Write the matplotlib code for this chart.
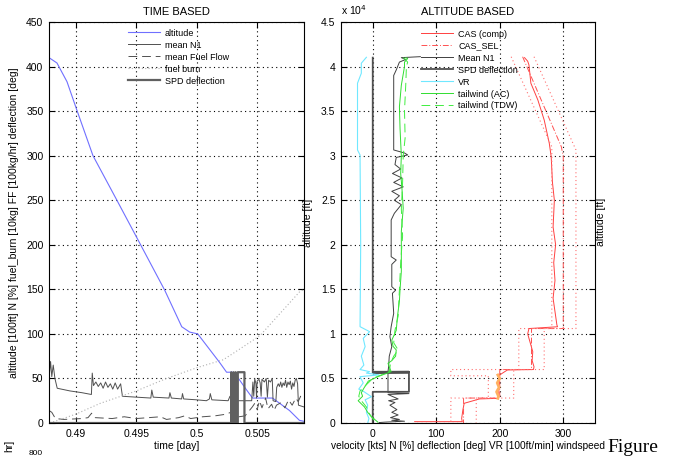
import numpy as np
import matplotlib
matplotlib.use('Agg')
import matplotlib.pyplot as plt

plt.rcParams['font.family'] = ['Liberation Sans', 'DejaVu Sans']
plt.rcParams['font.size'] = 7.5

# ---- TIME BASED data (time [day], values) ----
t_alt = [0.48777, 0.48843, 0.48926, 0.49008, 0.49141, 0.49339, 0.49504, 0.49735,
         0.49876, 0.49942, 0.50008, 0.50189, 0.50247, 0.50297, 0.50330, 0.50413,
         0.50462, 0.50627, 0.50768, 0.50850, 0.50884]
alt_100ft = [410, 404, 383, 351, 300, 250, 208, 149, 108, 102, 100, 68, 57, 57, 53,
             37, 28, 28, 14, 3, 2]

t_n1 = [0.48777, 0.48790, 0.48800, 0.48812, 0.48826, 0.48845, 0.48950, 0.49050, 0.49128,
        0.49135, 0.49145, 0.49165, 0.49185, 0.49205, 0.49225, 0.49245, 0.49265, 0.49285,
        0.49305, 0.49325, 0.49345, 0.49370, 0.49385, 0.49500, 0.49620, 0.49628, 0.49640,
        0.49770, 0.49778, 0.49790, 0.49875, 0.49882, 0.49892, 0.50000, 0.50080, 0.50105,
        0.50112, 0.50125, 0.50260, 0.50275, 0.50290, 0.50330, 0.50390, 0.50455, 0.50465,
        0.50472, 0.50480, 0.50490, 0.50495, 0.50500, 0.50515, 0.50525, 0.50533, 0.50540,
        0.50560, 0.50575, 0.50585, 0.50595, 0.50610, 0.50625, 0.50632, 0.50655, 0.50662,
        0.50675, 0.50685, 0.50695, 0.50705, 0.50715, 0.50725, 0.50735, 0.50745, 0.50755,
        0.50765, 0.50775, 0.50785, 0.50795, 0.50805, 0.50815, 0.50825, 0.50835, 0.50842,
        0.50888]
n1 = [50, 69, 52, 65, 50, 39, 36, 34, 32, 56, 42, 46, 41, 45, 39, 46, 40, 44, 38, 45, 38,
      44, 30, 29, 28, 37, 29, 28, 34, 28, 27, 33, 27, 26, 25, 27, 33, 26, 25, 30, 26, 25,
      25, 25, 46, 30, 50, 44, 28, 47, 49, 45, 30, 49, 46, 50, 29, 48, 46, 50, 25, 24, 40,
      44, 41, 46, 40, 45, 42, 48, 40, 46, 43, 47, 38, 45, 41, 48, 50, 44, 20, 18]

t_ff = [0.48777, 0.48800, 0.48830, 0.48900, 0.49050, 0.49100, 0.49130, 0.49160, 0.49300,
        0.49400, 0.49500, 0.49600, 0.49700, 0.49750, 0.49850, 0.49900, 0.49950, 0.50050,
        0.50150, 0.50250, 0.50280, 0.50300, 0.50400, 0.50460, 0.50480, 0.50500, 0.50520,
        0.50540, 0.50570, 0.50590, 0.50620, 0.50640, 0.50660, 0.50700, 0.50730, 0.50760,
        0.50790, 0.50820, 0.50840, 0.50860, 0.50888]
ff = [14, 12, 5, 4, 5, 6, 11, 6, 5, 7, 5, 6, 7, 4, 6, 8, 5, 7, 8, 10, 12, 6, 8, 18, 22,
      15, 25, 17, 28, 16, 21, 14, 20, 23, 17, 26, 20, 28, 24, 30, 27]

t_burn = [0.48785, 0.49000, 0.49200, 0.49500, 0.49750, 0.50000, 0.50220, 0.50300,
          0.50490, 0.50530, 0.50850, 0.50888]
burn = [0, 10, 22, 36, 50, 62, 71, 78, 95, 99, 147, 150]

t_spd = [0.48777, 0.50286, 0.50286, 0.50290, 0.50305, 0.50305, 0.50309, 0.50322, 0.50322,
         0.50326, 0.50340, 0.50340, 0.50395, 0.50395, 0.50888]
spd_t = [0, 0, 57, 0, 0, 57, 0, 0, 57, 0, 0, 57, 57, 0, 0]

# ---- ALTITUDE BASED data (altitude [ft], values) ----
cas_alt = [41000, 40600, 40180, 38130, 36250, 34000, 31390, 29890, 27000, 25000, 22000,
           20000, 18000, 16000, 14000, 12000, 11000, 10800, 10600, 10000, 9000, 8000,
           7000, 6300, 6000, 5950, 5400, 2770, 2700, 2210, 1500, 500, 150, 150]
cas = [239, 244, 246, 249, 260, 270, 278, 281, 283, 286, 284, 288, 285, 287, 284, 288,
       290, 291, 246, 244, 248, 252, 251, 254, 253, 212, 200, 198, 168, 144, 142, 140,
       141, 66]

cas_hold_alt = [5390, 5000, 4500, 4000, 3500, 3000, 2770]
cas_hold = [197, 200, 196, 199, 195, 198, 197]

sel_alt = [41100, 31000, 29900, 10600, 10600, 6000, 6000, 2800, 2800, 0]
sel = [236, 297, 300, 300, 250, 250, 200, 200, 143, 143]
sel_lo_alt = [41100, 31000, 10600, 10600, 6000, 6000, 5300, 5300, 2800, 2800, 0]
sel_lo = [218, 282, 282, 230, 230, 123, 123, 182, 182, 123, 123]
sel_hi_alt = [41100, 30640, 10600, 10600, 6000, 6000, 2800, 2800, 0]
sel_hi = [254, 320, 320, 270, 270, 222, 222, 163, 163]

n1_alt = [41110, 41000, 40800, 40500, 39620, 39000, 30640, 30300, 30080, 29800, 29000,
          28500, 28000, 27500, 27000, 26500, 26000, 25500, 25000, 24500, 23530, 22780,
          18660, 18290, 17800, 15300, 14900, 14560, 12310, 10810, 9690, 8570, 7500, 6320,
          5760, 3400, 3300, 3200, 2700, 2500, 2300, 2000, 1500, 1200, 900, 600, 400, 300,
          200, 100, 50]
n1_a = [75, 45, 52, 42, 37, 33, 33, 50, 55, 37, 35, 44, 31, 46, 33, 48, 30, 42, 34, 45,
        34, 29, 29, 37, 30, 30, 36, 31, 33, 29, 27, 30, 26, 25, 24, 24, 57, 24, 40, 25,
        35, 27, 38, 30, 40, 28, 42, 30, 50, 20, 10]

spd_alt = [41000, 5750, 5750, 5720, 5700, 5700, 5670, 5650, 5650, 3500, 3500, 0]
spd_a = [0, 0, 57, 0, 0, 57, 0, 0, 57, 57, 0, 0]

vr_alt = [41040, 40370, 39250, 38130, 30640, 30080, 20000, 10810, 10250, 9500, 8570, 7500,
          6500, 6000, 5760, 5600, 5400, 5200, 4500, 3800, 3520, 2950, 2600, 2000, 1200,
          500, 0]
vr = [-10, -18, -18, -24, -24, -20, -19, -20, -5, -15, -12, -18, -14, -20, -5, -10, 10,
      -20, -15, -22, -14, -2, -12, -8, -10, -6, -8]

tw_ac_alt = [41000, 40900, 40500, 40000, 37900, 35500, 33000, 30000, 28000, 26300, 24100,
             21500, 19000, 17000, 15000, 13700, 12000, 10400, 9300, 8600, 8200, 7500,
             7000, 6700, 6300, 5760, 5200, 4700, 3900, 3400, 3000, 2500, 1800, 1200, 700,
             100]
tw_ac = [52, 55, 50, 50, 45, 42, 43, 45, 44, 46, 48, 45, 45, 45, 43, 42, 39, 37, 30, 32,
         37, 36, 30, 24, 26, 29, 8, -7, -14, -18, -16, -23, -13, -8, -2, 8]

tw_tdw_alt = [41000, 40500, 40000, 38000, 35000, 32000, 30000, 27000, 24000, 21000, 18000,
              15000, 12000, 10400, 9000, 8200, 7500, 6700, 5760, 5000, 4300, 3600, 3000,
              2500, 1800, 1000, 300]
tw_tdw = [48, 55, 53, 52, 50, 51, 48, 47, 45, 47, 44, 42, 40, 35, 33, 40, 33, 28, 26, 0,
          -10, -20, -22, -18, -10, -5, 2]

W, H = 676, 458
fig = plt.figure(figsize=(W / 100, H / 100), dpi=100)
fig.patch.set_facecolor('white')

def px_axes(x0, y0, x1, y1):
    return fig.add_axes([x0 / W, 1 - y1 / H, (x1 - x0) / W, (y1 - y0) / H])

grid_kw = dict(color='k', linestyle=(0, (1, 3)), linewidth=0.8)
leg_kw = dict(loc='upper left', frameon=False, borderpad=0, borderaxespad=0,
              labelspacing=0.33, handlelength=3.55, handletextpad=0.55, fontsize=6.5)

# ---------------- left: time based ----------------
ax = px_axes(49, 22, 304, 423)
ax.plot(t_alt, alt_100ft, color='#7070ff', lw=0.8, label='altitude')
ax.plot(t_n1, n1, color='#505050', lw=0.7, label='mean N1')
ax.plot(t_ff, ff, color='#505050', lw=0.7, linestyle=(0, (9, 5)), label='mean Fuel Flow')
ax.plot(t_burn, burn, color='#b0b0b0', lw=0.8, linestyle=(0, (1, 2)), label='fuel burn')
ax.plot(t_spd, spd_t, color='#606060', lw=1.6, label='SPD deflection')
ax.set_xlim(0.48777, 0.50888)
ax.set_ylim(0, 450)
ax.set_xticks([0.49, 0.495, 0.5, 0.505])
ax.set_xticklabels(['0.49', '0.495', '0.5', '0.505'])
ax.set_yticks(np.arange(0, 451, 50))
ax.grid(True, **grid_kw)
ax.tick_params(direction='in', top=True, right=True, length=4, pad=4)
ax.set_title('TIME BASED', fontsize=8, pad=5)
ax.set_xlabel('time [day]', labelpad=2)
ax.set_ylabel('altitude [100ft] N [%] fuel_burn [10kg] FF [100kg/hr] deflection [deg]')
ax.yaxis.set_label_coords(-0.118, 0.5)
ax.legend(bbox_to_anchor=(0.31, 0.9835), **leg_kw)

# ---------------- right: altitude based ----------------
ax2 = px_axes(341, 22, 595, 423)
ax2.plot(cas, cas_alt, color='#ff4040', lw=0.7, label='CAS (comp)')
ax2.plot(sel, sel_alt, color='#ff5050', lw=0.7, linestyle=(0, (6, 2, 1, 2)), label='CAS_SEL')
ax2.plot(n1_a, n1_alt, color='#404040', lw=0.7, label='Mean N1')
ax2.plot(spd_a, spd_alt, color='#505050', lw=1.3, label='SPD deflection')
ax2.plot(vr, vr_alt, color='#70e8ff', lw=0.8, label='VR')
ax2.plot(tw_ac, tw_ac_alt, color='#30dd30', lw=0.7, label='tailwind (AC)')
ax2.plot(tw_tdw, tw_tdw_alt, color='#40ee40', lw=0.7, linestyle=(0, (9, 5)), label='tailwind (TDW)')
ax2.plot(sel_lo, sel_lo_alt, color='#ff7070', lw=0.8, linestyle=(0, (1, 2.5)))
ax2.plot(sel_hi, sel_hi_alt, color='#ff7070', lw=0.8, linestyle=(0, (1, 2.5)))
ax2.plot(cas_hold, cas_hold_alt, color='#ffb060', lw=2)
ax2.set_xlim(-50, 350)
ax2.set_ylim(0, 45000)
ax2.set_xticks([0, 100, 200, 300])
ax2.set_yticks(np.arange(0, 45001, 5000))
ax2.set_yticklabels(['0', '0.5', '1', '1.5', '2', '2.5', '3', '3.5', '4', '4.5'])
ax2.grid(True, **grid_kw)
ax2.tick_params(direction='in', top=True, right=True, length=4, pad=4)
ax2.set_title('ALTITUDE BASED', fontsize=8, pad=5)
ax2.set_xlabel('velocity [kts] N [%] deflection [deg] VR [100ft/min] windspeed',
               labelpad=2, fontsize=7.3)
ax2.set_ylabel('altitude [ft]')
ax2.yaxis.set_label_coords(-0.11, 0.5)
ax2.text(0.0, 1.012, r'x 10$^4$', transform=ax2.transAxes, ha='left', va='bottom',
         fontsize=7.5)
ax2.legend(bbox_to_anchor=(0.315, 0.981), **leg_kw)

fig.text(596 / W, 1 - 222 / H, 'altitude [ft]', rotation=90, ha='left', va='center',
         fontsize=7.5)

# pieces of the panel below, at the page edge
fig.text(9 / W, 1 - 440 / H, 'hr]', rotation=90, ha='center', va='top', fontsize=7.5)
fig.text(36 / W, 1 / H, '800', ha='center', va='bottom', fontsize=6)
fig.text(607 / W, 6 / H, 'Figure', family=['Liberation Serif', 'DejaVu Serif'],
         fontsize=14, ha='left', va='baseline')

fig.savefig('out.png', dpi=100)
